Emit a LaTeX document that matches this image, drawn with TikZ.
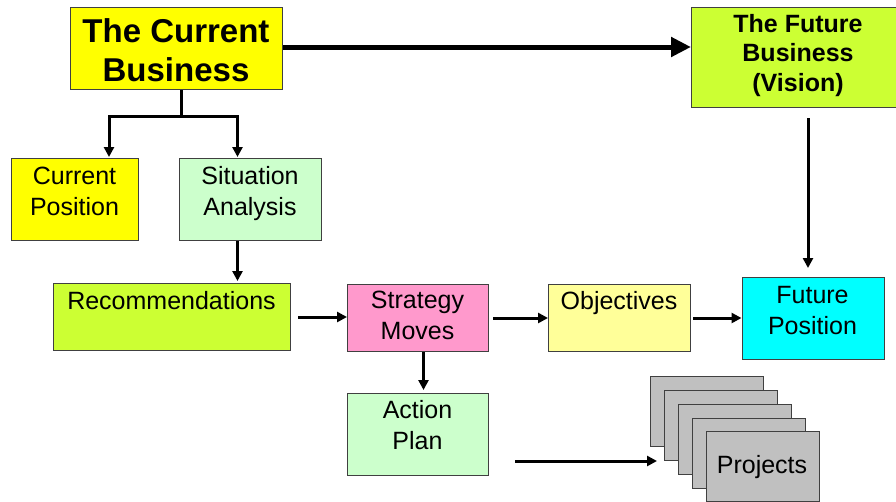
\documentclass[tikz,border=0pt]{standalone}
\usepackage{fontspec}
\setmainfont{Liberation Sans}
\usetikzlibrary{arrows.meta,calc}
\definecolor{cyel}{HTML}{FFFF00}
\definecolor{clime}{HTML}{CCFF33}
\definecolor{cmint}{HTML}{CCFFCC}
\definecolor{cpink}{HTML}{FF99CC}
\definecolor{cpale}{HTML}{FFFF99}
\definecolor{ccyan}{HTML}{00FFFF}
\definecolor{cgray}{HTML}{C0C0C0}
\begin{document}
\begin{tikzpicture}[x=1pt,y=-1pt,
  box/.style={draw=black!75, line width=1pt, inner sep=0pt, anchor=north west},
  txt/.style={align=center, anchor=base, inner sep=0pt, font=\fontsize{25}{31}\selectfont},
  arr/.style={line width=3pt, -{Triangle[length=10pt,width=10pt]}},
  bigarr/.style={line width=5pt, -{Triangle[length=20pt,width=19pt]}}
]
\useasboundingbox (0,0) rectangle (896,501);
\fill[white] (0,0) rectangle (896,501);

% boxes
\node[box, fill=cyel, minimum width=212pt, minimum height=82pt] (cb) at (70,7) {};
\node[box, fill=clime, minimum width=214pt, minimum height=100pt] (fb) at (691,7) {};
\node[box, fill=cyel, minimum width=127pt, minimum height=82pt] (cp) at (11,158) {};
\node[box, fill=cmint, minimum width=142pt, minimum height=82pt] (sa) at (179,158) {};
\node[box, fill=clime, minimum width=237pt, minimum height=67pt] (rec) at (53,283) {};
\node[box, fill=cpink, minimum width=141pt, minimum height=67pt] (sm) at (347,284) {};
\node[box, fill=cpale, minimum width=142pt, minimum height=67pt] (obj) at (548,284) {};
\node[box, fill=ccyan, minimum width=142pt, minimum height=82pt] (fp) at (741.5,277) {};
\node[box, fill=cmint, minimum width=141pt, minimum height=82pt] (ap) at (347,393) {};

% project stack
\node[box, fill=cgray, minimum width=113.5pt, minimum height=70pt] (p1) at (649.5,376) {};
\node[box, fill=cgray, minimum width=113.5pt, minimum height=70pt] (p2) at (663.5,390) {};
\node[box, fill=cgray, minimum width=113.5pt, minimum height=70pt] (p3) at (677.5,404) {};
\node[box, fill=cgray, minimum width=113.5pt, minimum height=70pt] (p4) at (691.5,418) {};
\node[box, fill=cgray, minimum width=113pt, minimum height=70pt] (p5) at (705.5,431) {};

% texts (anchor = baseline of last line)
\node[txt, font=\bfseries\fontsize{33}{39}\selectfont] (cbt) at (176,81) {The Current\\Business};
\node[txt, font=\bfseries\fontsize{25}{29.5}\selectfont] (fbt) at (798,91) {The Future\\Business\\(Vision)};
\node[txt] (cpt) at (74.5,215) {Current\\Position};
\node[txt] (sat) at (250,215) {Situation\\Analysis};
\node[txt] (rect) at (171.5,309) {Recommendations};
\node[txt] (smt) at (417.5,339) {Strategy\\Moves};
\node[txt] (objt) at (619,309) {Objectives};
\node[txt] (fpt) at (812.5,334) {Future\\Position};
\node[txt] (apt) at (417.5,449) {Action\\Plan};
\node[txt] (p5t) at (762,473) {Projects};

% connectors
\draw[bigarr] (cb.east |- 0,47) -- (fb.west |- 0,47);
\coordinate (split) at (181,116);
\draw[line width=3pt] (cb.south -| split) -- (split);
\draw[arr] (split) -| ($(cp.north)+(34,-1)$);
\draw[arr] (split) -| ($(sa.north)+(-13,-1)$);
\draw[arr] ($(sa.south)+(-13,0)$) -- ($(rec.north)+(65.5,-2)$);
\draw[arr, shorten <=7pt] (rec.east |- 0,317) -- (sm.west |- 0,317);
\draw[arr, shorten <=4pt] (sm.east |- 0,318) -- (obj.west |- 0,318);
\draw[arr, shorten <=2pt] (obj.east |- 0,318) -- (fp.west |- 0,318);
\draw[arr, shorten <=10pt, shorten >=9pt] (fb.south -| 808,0) -- (fp.north -| 808,0);
\draw[arr, shorten >=3pt] ($(sm.south)+(5.5,0)$) -- ($(ap.north)+(5.5,0)$);
\coordinate (apout) at (515,461);
\coordinate (pin) at (657,461);
\draw[arr] (apout) -- (pin);
\end{tikzpicture}
\end{document}
